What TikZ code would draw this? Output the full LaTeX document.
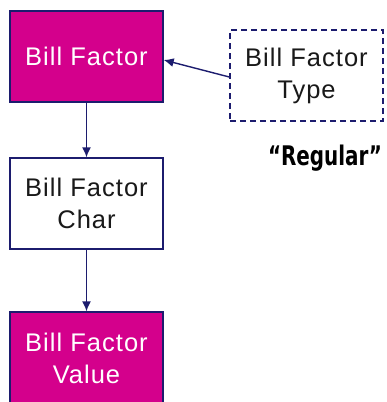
\documentclass[tikz,border=0pt]{standalone}
\usepackage{fontspec}
\setmainfont[LetterSpace=4]{Liberation Sans}
\newfontfamily\heavyfont{DejaVu Sans Condensed}
\usetikzlibrary{arrows.meta}
\definecolor{bfmag}{RGB}{212,0,140}
\definecolor{bfnavy}{RGB}{28,28,110}
\begin{document}
\begin{tikzpicture}[x=1pt,y=-1pt,
  entity/.style={draw=bfnavy, line width=1.4pt, minimum width=153pt, minimum height=91pt,
     inner sep=0pt, align=center, font=\fontsize{25.5}{32}\selectfont},
  magbox/.style={entity, fill=bfmag, text=white},
  plainbox/.style={entity, fill=white, text=black!90},
  dashbox/.style={entity, dashed, dash pattern=on 6pt off 4pt, fill=white, text=black!90},
  link/.style={draw=bfnavy, line width=1.4pt, -{Latex[length=10pt,width=9pt]}}]
\useasboundingbox (0,0) rectangle (387,402);
\node[magbox] (bf) at (86.5,56.5) {Bill Factor};
\node[dashbox] (bft) at (306.5,75.5) {Bill Factor\\Type};
\node[plainbox] (bfc) at (86.5,203.5) {Bill Factor\\Char};
\node[magbox, minimum height=93pt] (bfv) at (86.5,358.5) {Bill Factor\\Value};
\node[font=\heavyfont\bfseries\fontsize{27}{30}\selectfont, inner sep=0pt, anchor=base, xscale=0.82, transform shape] (reg) at (325,165) {“Regular”};
\draw[link] ([yshift=-1.5pt]bft.west) -- ([yshift=-3.5pt]bf.east);
\draw[link] (bf.south) -- (bfc.north);
\draw[link] (bfc.south) -- (bfv.north);
\end{tikzpicture}
\end{document}
